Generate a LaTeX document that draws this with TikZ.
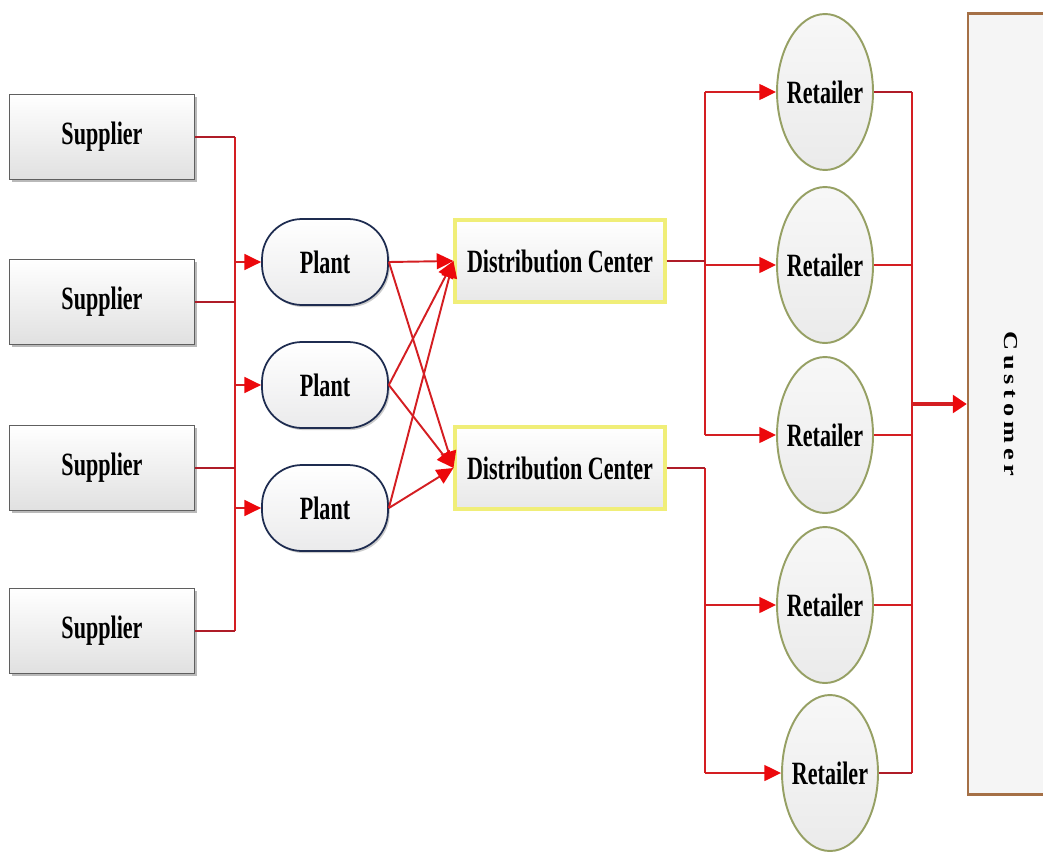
\documentclass[tikz,border=0pt]{standalone}
\usepackage{fontspec}
\setmainfont{Liberation Serif}[FakeStretch=0.68]
\newfontfamily\custfont{Liberation Serif}[LetterSpace=18]
\usepackage{xcolor}
\usepackage{tikz}
\usetikzlibrary{arrows.meta,shapes.geometric,shadows}

\definecolor{linkred}{RGB}{212,30,34}
\definecolor{stubred}{RGB}{175,28,40}
\definecolor{tipred}{RGB}{236,8,12}
\definecolor{supborder}{RGB}{95,95,95}
\definecolor{plantborder}{RGB}{30,44,80}
\definecolor{dcborder}{RGB}{240,238,120}
\definecolor{retborder}{RGB}{150,160,100}
\definecolor{custborder}{RGB}{165,112,70}

\begin{document}
\begin{tikzpicture}[x=0.02cm, y=-0.02cm,
    font=\fontsize{18.5}{20}\selectfont\bfseries,
    supplier/.style={rectangle, draw=supborder, line width=0.8pt, top color=white, bottom color=black!12,
        drop shadow={shadow xshift=1.4pt, shadow yshift=-1.6pt, fill=black!55},
        minimum width=3.7cm, minimum height=1.7cm, inner sep=0pt},
    plant/.style={rectangle, rounded corners=0.8cm, draw=plantborder, line width=1pt, top color=white, bottom color=blue!5!black!8,
        drop shadow={shadow xshift=1pt, shadow yshift=-1.2pt, fill=black!40},
        minimum width=2.52cm, minimum height=1.72cm, inner sep=0pt},
    dc/.style={rectangle, draw=dcborder, line width=1.8pt, top color=white, bottom color=black!9,
        minimum width=4.2cm, minimum height=1.64cm, inner sep=0pt},
    retailer/.style={ellipse, draw=retborder, line width=1.1pt, top color=black!3, bottom color=black!8,
        minimum width=1.92cm, minimum height=3.12cm, inner sep=0pt},
    customer/.style={rectangle, draw=custborder, line width=1.3pt, fill=black!4,
        minimum width=1.72cm, minimum height=15.62cm, inner sep=0pt,
        font=\custfont\bfseries\fontsize{15}{16}\selectfont},
    link/.style={draw=linkred, line width=1.1pt},
    stub/.style={draw=stubred, line width=1.6pt},
    arr/.style={link, -{Triangle[length=9.5pt, width=9pt, color=tipred]}},
    bigarr/.style={draw=linkred, line width=2.4pt, -{Triangle[length=8pt, width=10pt, color=tipred]}}]
    \useasboundingbox (0,0) rectangle (1043,855);

    \node (s1) at (102,137) [supplier] {Supplier};
    \node (s2) at (102,302) [supplier] {Supplier};
    \node (s3) at (102,468) [supplier] {Supplier};
    \node (s4) at (102,631) [supplier] {Supplier};

    \node (p1) at (325,262) [plant] {Plant};
    \node (p2) at (325,385) [plant] {Plant};
    \node (p3) at (325,508) [plant] {Plant};

    \node (d1) at (560,261) [dc] {Distribution Center};
    \node (d2) at (560,468) [dc] {Distribution Center};

    \node (r1) at (825,92) [retailer, label=center:Retailer] {};
    \node (r2) at (825,265) [retailer, label=center:Retailer] {};
    \node (r3) at (825,435) [retailer, label=center:Retailer] {};
    \node (r4) at (825,605) [retailer, label=center:Retailer] {};
    \node (r5) at (830,773) [retailer, label=center:Retailer] {};

    \node (c) at (1011,404) [customer] {\rotatebox{-90}{\scalebox{1}[0.75]{Customer}}};

    \coordinate (busS) at (235,400);
    \coordinate (busR) at (705,400);
    \coordinate (busC) at (912,400);

    % suppliers to plants
    \draw [link] (s1.east -| busS) -- (s4.east -| busS);
    \draw [stub] (s1.east) -- (s1.east -| busS);
    \draw [stub] (s2.east) -- (s2.east -| busS);
    \draw [stub] (s3.east) -- (s3.east -| busS);
    \draw [stub] (s4.east) -- (s4.east -| busS);
    \draw [arr] (busS |- p1.west) -- (p1.west);
    \draw [arr] (busS |- p2.west) -- (p2.west);
    \draw [arr] (busS |- p3.west) -- (p3.west);

    % plants to distribution centers
    \draw [link] (p1.east) edge [arr] (d1.west);
    \draw [link] (p1.east) edge [arr] (d2.west);
    \draw [link] (p2.east) edge [arr] (d1.west);
    \draw [link] (p2.east) edge [arr] (d2.west);
    \draw [link] (p3.east) edge [arr] (d1.west);
    \draw [link] (p3.east) edge [arr] (d2.west);

    % distribution centers to retailers
    \draw [link] (busR |- r1.west) -- (busR |- r3.west);
    \draw [link] (busR |- d2.east) -- (busR |- r5.west);
    \draw [stub] (d1.east) -- (d1.east -| busR);
    \draw [stub] (d2.east) -- (d2.east -| busR);
    \draw [arr] (busR |- r1.west) -- (r1.west);
    \draw [arr] (busR |- r2.west) -- (r2.west);
    \draw [arr] (busR |- r3.west) -- (r3.west);
    \draw [arr] (busR |- r4.west) -- (r4.west);
    \draw [arr] (busR |- r5.west) -- (r5.west);

    % retailers to customer
    \draw [link] (busC |- r1.east) -- (busC |- r5.east);
    \draw [stub] (r1.east) -- (r1.east -| busC);
    \draw [link] (r2.east) -- (r2.east -| busC);
    \draw [link] (r3.east) -- (r3.east -| busC);
    \draw [link] (r4.east) -- (r4.east -| busC);
    \draw [stub] (r5.east) -- (r5.east -| busC);
    \draw [bigarr] (busC |- c.west) -- (c.west);
\end{tikzpicture}
\end{document}
